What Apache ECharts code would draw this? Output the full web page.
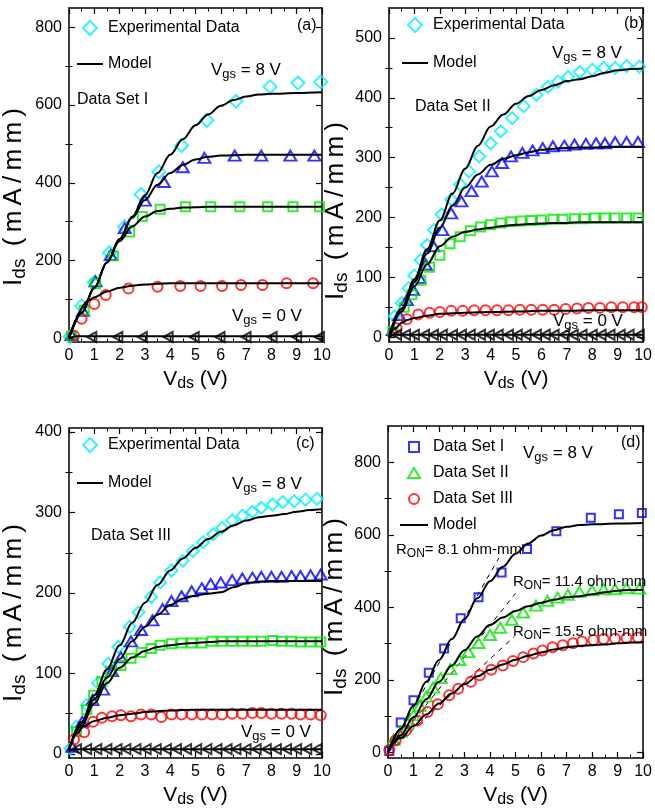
<!DOCTYPE html>
<html><head><meta charset="utf-8">
<script src="https://cdn.jsdelivr.net/npm/echarts@6/dist/echarts.min.js"></script>
<style>html,body{margin:0;padding:0;background:#fff}#c{width:655px;height:809px}</style>
</head><body><div id="c"></div>
<script>
// ---------- Panel (a): Data Set I ----------
const aVd8 = [0.05,0.5,1.0,1.6,2.2,2.85,3.55,4.45,5.45,6.6,7.95,9.05,9.95];
const aId8 = [4,83,144,220,287,370,428,496,561,610,647,657,660];
const aVd6 = [0.1,0.55,1.05,1.65,2.2,3.0,3.75,4.5,5.35,6.55,7.6,8.75,9.7];
const aId6 = [8,70,146,214,283,354,402,440,464,470,470,470,470];
const aVd4 = [0.1,0.6,1.05,1.75,2.4,2.9,3.6,4.6,5.6,6.75,7.85,8.85,9.9];
const aId4 = [5,72,140,212,273,313,332,338,338,338,338,338,338];
const aVd2 = [0.2,0.5,1.0,1.45,2.35,3.5,4.4,5.2,6.05,6.8,7.65,8.6,9.65];
const aId2 = [6,50,88,111,128,132,134,134,134,137,137,141,141];
const aVd0 = [0.9,1.93,2.9,3.92,4.95,5.97,7.0,8.03,9.0,9.9];
const aId0 = [3,3,3,3,3,3,3,3,3,3];
const aMx  = [0,0.5,1,1.5,2,2.5,3,3.5,4,4.5,5,5.5,6,6.5,7,7.5,8,9,10];
const aM8  = [0,65,130,195,255,313,368,425,472,512,548,576,598,613,622,627,629,631,633];
const aM6  = [0,65,130,195,255,310,355,395,425,446,460,467,470,471,472,472,472,472,472];
const aM4  = [0,65,130,195,250,288,313,327,333,336,337,338,338,338,338,338,338,338,338];
const aM2x = [0,0.8,1,1.5,2,2.5,3,3.5,4,5,6,7,8,9,10];
const aM2  = [0,98,105,120,130,135,138,140,141,141,141,141,141,141,141];
const aM0x = [0,0.3,10];
const aM0  = [0,5,5];

// ---------- Panel (b): Data Set II ----------
const bVd8 = [0.22,0.5,0.77,1.0,1.25,1.5,1.77,2.07,2.45,2.8,3.15,3.55,4.0,4.4,4.85,5.3,5.8,6.25,6.65,7.05,7.5,8.0,8.45,8.9,9.35,9.85];
const bId8 = [35,57,82,103,129,154,179,205,230,255,277,302,324,344,366,386,405,418,427,435,443,447,450,450,453,452];
const bVd6 = [0.15,0.4,0.7,0.95,1.2,1.45,1.75,2.1,2.45,2.85,3.25,3.65,4.05,4.45,4.8,5.25,5.65,6.05,6.45,6.9,7.3,7.75,8.15,8.5,8.9,9.35,9.8];
const bId6 = [12,37,62,79,99,121,152,179,207,227,244,260,277,291,302,308,312,316,319,320,322,323,324,324,326,326,326];
const bVd4 = [0.15,0.6,0.9,1.25,1.6,2.0,2.4,2.8,3.2,3.6,4.0,4.4,4.8,5.2,5.6,6.0,6.45,6.85,7.3,7.7,8.1,8.5,8.9,9.35,9.8];
const bId4 = [10,50,71,95,117,137,156,168,178,184,188,191,193,194,195,196,197,197,198,198,199,199,199,199,199];
const bVd2 = [0.3,0.7,1.15,1.6,2.0,2.45,2.9,3.35,3.8,4.25,4.7,5.15,5.6,6.05,6.5,6.95,7.4,7.85,8.3,8.75,9.2,9.65,9.95];
const bId2 = [15,30,38,41,42,44,44,45,45,45,45,46,46,46,46,47,48,49,49,50,50,50,50];
const bVd0 = [0.3,0.65,1.0,1.4,1.75,2.1,2.5,2.85,3.2,3.6,3.95,4.3,4.7,5.05,5.4,5.8,6.15,6.5,6.9,7.25,7.6,8.0,8.35,8.7,9.1,9.45,9.85];
const bId0 = [4,4,4,4,4,4,4,4,4,4,4,4,4,4,4,4,4,4,4,4,4,4,4,4,4,4,4];
const bMx  = [0,0.5,1,1.5,2,2.5,3,3.5,4,4.5,5,5.5,6,6.5,7,7.5,8,8.5,9,9.5,10];
const bM8  = [0,48,97,147,195,240,282,320,352,372,390,403,413,421,428,431,436,442,446,448,449];
const bM6  = [0,47,93,140,183,220,250,272,288,298,304,309,313,315,316,317,317,318,318,318,318];
const bM4  = [0,43,85,122,152,168,176,180,183,186,188,189,190,191,191,192,192,192,192,192,192];
const bM2x = [0,0.25,0.5,0.75,1,1.5,2,3,4,5,6,7,8,9,10];
const bM2  = [0,15,24,29,32,36,39,41,42,43,44,44,45,45,45];
const bM0x = [0,0.2,10];
const bM0  = [0,4,4];

// ---------- Panel (c): Data Set III ----------
const cVd8 = [0.05,0.3,0.7,1.15,1.55,1.95,2.4,2.75,3.25,3.6,4.05,4.5,4.9,5.3,5.7,6.05,6.45,6.85,7.25,7.6,8.05,8.45,8.9,9.35,9.8];
const cId8 = [7,34,61,88,112,133,158,176,195,213,228,240,252,263,273,281,290,296,301,306,310,313,314,316,317];
const cVd6 = [0.13,0.52,0.93,1.35,1.7,2.05,2.45,2.85,3.3,3.7,4.05,4.45,4.85,5.25,5.6,6.0,6.45,6.85,7.25,7.6,8.0,8.4,8.8,9.15,9.55,9.95];
const cId6 = [9,40,67,80,103,120,140,154,166,180,190,196,202,206,211,213,216,218,219,220,220,220,221,221,222,223];
const cVd4 = [0.3,0.7,0.97,1.3,1.65,2.05,2.45,2.85,3.25,3.6,4.05,4.45,4.85,5.25,5.65,6.05,6.45,6.85,7.25,7.6,8.05,8.4,8.8,9.15,9.55,9.95];
const cId4 = [28,55,73,90,103,110,119,126,131,135,137,138,138,138,140,140,140,140,140,140,141,140,140,139,139,139];
const cVd2 = [0.2,0.6,0.95,1.3,1.7,2.05,2.45,2.85,3.25,3.65,4.05,4.45,4.85,5.25,5.65,6.05,6.45,6.85,7.25,7.6,8.0,8.4,8.8,9.15,9.55,9.95];
const cId2 = [18,27,40,45,47,48,47,49,49,46,49,49,49,49,49,49,50,50,51,51,50,50,50,49,49,48];
const cVd0 = [0.3,0.7,1.1,1.5,1.9,2.25,2.65,3.05,3.45,3.85,4.25,4.65,5.05,5.45,5.85,6.25,6.6,7.0,7.4,7.8,8.2,8.6,9.0,9.4,9.8];
const cId0 = [6,6,6,6,6,6,6,6,6,6,6,6,6,6,6,6,6,6,6,6,6,6,6,6,6];
const cMx  = [0,0.5,1,1.5,2,2.5,3,3.5,4,4.5,5,5.5,6,6.5,7,7.5,8,8.5,9,9.5,10];
const cM8  = [5,40,73,105,135,163,188,210,228,243,256,267,276,284,290,294,296,298,301,303,304];
const cM6  = [5,38,68,95,118,140,158,173,185,193,197,199,201,207,212,214,215,215,215,215,215];
const cM4  = [5,35,63,88,107,120,128,133,135,137,138,139,140,140,140,140,140,140,140,140,140];
const cM2x = [0,0.3,0.6,1,1.5,2,2.5,3,4,5,6,7,8,9,10];
const cM2  = [5,25,35,41,45,48,50,52,54,55,55,55,55,55,55];
const cM0x = [0,0.2,10];
const cM0  = [4,6,6];

// ---------- Panel (d): R_ON ----------
const ronValues = [8.1, 11.4, 15.5];      // ohm-mm
const ronEndVds = [4.35, 5.0, 4.95];       // V, end of dashed tangent

// ---------- ticks ----------
const xTickVals = [0,1,2,3,4,5,6,7,8,9,10];
const aYMajor = [0,200,400,600,800], aYMinor = [100,300,500,700];
const bYMajor = [0,100,200,300,400,500], bYMinor = [50,150,250,350,450];
const cYMajor = [0,100,200,300,400], cYMinor = [50,150,250,350];
const dYMajor = [0,200,400,600,800], dYMinor = [100,300,500,700];

const FONT = "'Liberation Sans', Arial, sans-serif";
const CYAN = '#00f0ff', BLUE = '#0000ff', GREEN = '#00e800', RED = '#ff0000', BLACK = '#000';

const grids = [
  {left:62, top:8, width:260, height:334},
  {left:389, top:8, width:261, height:334},
  {left:63, top:428, width:259, height:332},
  {left:388, top:426, width:260, height:335}
];
const yRanges = [[-10,850],[-8,550],[-5,405],[-15,900]];
const yMajors = [aYMajor,bYMajor,cYMajor,dYMajor];
const yMinors = [aYMinor,bYMinor,cYMinor,dYMinor];
const yNameShift = [44, 72, 40, 30];
const yNameGap = [40, 38, 40, 38];

const xRich = {
  m:{fontSize:21, fontFamily:FONT, color:'#000', lineHeight:26},
  s:{fontSize:16, fontFamily:FONT, color:'#000', lineHeight:14, verticalAlign:'bottom'}
};
const yRich = {
  m:{fontSize:26, fontFamily:FONT, color:'#000', lineHeight:30},
  s:{fontSize:19, fontFamily:FONT, color:'#000', lineHeight:16, verticalAlign:'bottom'}
};
const TS = '\u2009';
const yName = '{m|I}{s|ds}{m|' + TS + ' ' + '(mA/mm)'.split('').join(TS) + '}';

const xAxis = [], yAxis = [];
grids.forEach((g, gi) => {
  const common = {gridIndex:gi, type:'value', min:0, max:10, interval:1, splitLine:{show:false},
    axisLine:{show:true, onZero:false, lineStyle:{color:'#000', width:1.5}},
    axisTick:{show:true, inside:true, length:6, lineStyle:{color:'#000', width:1.2}},
    minorTick:{show:true, splitNumber:2, length:3.5, lineStyle:{color:'#000', width:1}}};
  xAxis.push(Object.assign({}, common, {position:'bottom',
    axisLabel:{show:true, fontSize:16, fontFamily:FONT, color:'#000', margin:6},
    name:'{m|V}{s|ds}{m| (V)}', nameLocation:'middle', nameGap:24,
    nameTextStyle:{rich:xRich}}));
  xAxis.push(Object.assign({}, common, {position:'top', axisLabel:{show:false}}));
  const [mn, mx] = yRanges[gi];
  const yc = {gridIndex:gi, type:'value', min:mn, max:mx, splitLine:{show:false}};
  yAxis.push(Object.assign({}, yc, {position:'left',
    axisLine:{show:true, onZero:false, lineStyle:{color:'#000', width:1.5}},
    axisTick:{show:true, inside:true, length:6, customValues:yMajors[gi], lineStyle:{color:'#000', width:1.2}},
    axisLabel:{show:true, customValues:yMajors[gi], fontSize:16, fontFamily:FONT, color:'#000', margin:7},
    name:yName, nameLocation:'middle', nameGap:yNameGap[gi],
    nameTextStyle:{rich:yRich, padding:[0, yNameShift[gi], 0, 0]}}));
  yAxis.push(Object.assign({}, yc, {position:'right',
    axisLine:{show:true, onZero:false, lineStyle:{color:'#000', width:1.5}},
    axisTick:{show:true, inside:true, length:6, customValues:yMajors[gi], lineStyle:{color:'#000', width:1.2}},
    axisLabel:{show:false, customValues:yMajors[gi]}}));
  ['left','right'].forEach(pos => yAxis.push(Object.assign({}, yc, {position:pos,
    axisLine:{show:false},
    axisTick:{show:true, inside:true, length:3.5, customValues:yMinors[gi], lineStyle:{color:'#000', width:1}},
    axisLabel:{show:false, customValues:yMinors[gi]}})));
});

const zip = (xs, ys) => xs.map((x, i) => [x, ys[i]]);
function sc(name, gi, xs, ys, symbol, color, size, rot) {
  return {type:'scatter', name, xAxisIndex:2*gi, yAxisIndex:4*gi, data:zip(xs, ys),
    symbol, symbolSize:size, symbolRotate:rot || 0, silent:true, z:3,
    itemStyle:{color:'rgba(255,255,255,0)', borderColor:color, borderWidth:2}};
}
function ln(name, gi, xs, ys, dashed) {
  return {type:'line', name, xAxisIndex:2*gi, yAxisIndex:4*gi, data:zip(xs, ys),
    symbol:'none', smooth:dashed ? false : 0.35, smoothMonotone:'x', silent:true, z:dashed ? 2 : 4,
    itemStyle:{color:'#000'},
    lineStyle:{color:'#000', width:dashed ? 1 : 2, type:dashed ? [5,5] : 'solid'}};
}

const series = [
  // (a)
  sc('Experimental Data', 0, aVd8, aId8, 'diamond', CYAN, 13),
  sc('a6', 0, aVd6, aId6, 'triangle', BLUE, [12,10]),
  sc('a4', 0, aVd4, aId4, 'rect', GREEN, 9),
  sc('a2', 0, aVd2, aId2, 'circle', RED, 10),
  sc('a0', 0, aVd0, aId0, 'triangle', BLACK, [10,9], 90),
  ln('Model', 0, aMx, aM8), ln('Model', 0, aMx, aM6), ln('Model', 0, aMx, aM4),
  ln('Model', 0, aM2x, aM2), ln('Model', 0, aM0x, aM0),
  // (b)
  sc('Experimental Data', 1, bVd8, bId8, 'diamond', CYAN, 12),
  sc('b6', 1, bVd6, bId6, 'triangle', BLUE, [12,10]),
  sc('b4', 1, bVd4, bId4, 'rect', GREEN, 9),
  sc('b2', 1, bVd2, bId2, 'circle', RED, 10),
  sc('b0', 1, bVd0, bId0, 'triangle', BLACK, [10,9], 90),
  ln('Model', 1, bMx, bM8), ln('Model', 1, bMx, bM6), ln('Model', 1, bMx, bM4),
  ln('Model', 1, bM2x, bM2), ln('Model', 1, bM0x, bM0),
  // (c)
  sc('Experimental Data', 2, cVd8, cId8, 'diamond', CYAN, 12),
  sc('c6', 2, cVd6, cId6, 'triangle', BLUE, [12,10]),
  sc('c4', 2, cVd4, cId4, 'rect', GREEN, 9),
  sc('c2', 2, cVd2, cId2, 'circle', RED, 10),
  sc('c0', 2, cVd0, cId0, 'triangle', BLACK, [10,9], 90),
  ln('Model', 2, cMx, cM8), ln('Model', 2, cMx, cM6), ln('Model', 2, cMx, cM4),
  ln('Model', 2, cM2x, cM2), ln('Model', 2, cM0x, cM0),
  // (d)
  sc('Data Set I', 3, aVd8, aId8, 'rect', BLUE, 8),
  sc('Data Set II', 3, bVd8, bId8, 'triangle', GREEN, [12,10]),
  sc('Data Set III', 3, cVd8, cId8, 'circle', RED, 10),
  ln('Model', 3, aMx, aM8), ln('Model', 3, bMx, bM8), ln('Model', 3, cMx, cM8)
];
ronValues.forEach((r, i) => {
  series.push(ln('ron' + i, 3, [0, ronEndVds[i]], [0, 1000 * ronEndVds[i] / r], true));
});

// legend icons (kept at their own aspect inside the icon slot)
const ICON_LINE = 'path://M0,0L26,0L26,2L0,2Z';
const ICON_DIAMOND = 'path://M7,0L14,7L7,14L0,7Z';
const ICON_SQUARE = 'path://M0,0L8,0L8,8L0,8Z';
const ICON_TRI = 'path://M6,0L12,10L0,10Z';
const ICON_CIRCLE = 'path://M5,0A5,5,0,1,1,5,10A5,5,0,1,1,5,0Z';

const legendText = {fontSize:16, fontFamily:FONT, color:'#000'};
const legBase = {orient:'vertical', itemWidth:26, padding:0, textStyle:legendText, selectedMode:false, symbolKeepAspect:true};
const expItems = [{name:'Experimental Data', icon:ICON_DIAMOND}, {name:'Model', icon:ICON_LINE, itemStyle:{color:'#000', borderWidth:0}}];
const legend = [
  Object.assign({}, legBase, {data:expItems, left:77, top:20, itemGap:20, itemHeight:14}),
  Object.assign({}, legBase, {data:expItems, left:402, top:17, itemGap:22, itemHeight:14}),
  Object.assign({}, legBase, {data:expItems, left:77, top:437, itemGap:22, itemHeight:14}),
  Object.assign({}, legBase, {data:[{name:'Data Set I', icon:ICON_SQUARE}, {name:'Data Set II', icon:ICON_TRI},
    {name:'Data Set III', icon:ICON_CIRCLE}, {name:'Model', icon:'path://M0,0L28,0L28,2L0,2Z', itemStyle:{color:'#000', borderWidth:0}}],
    left:400, top:439, itemGap:10, itemHeight:10, itemWidth:28})
];

const annRich = {
  m:{fontSize:17, fontFamily:FONT, fill:'#000', lineHeight:22},
  s:{fontSize:13, fontFamily:FONT, fill:'#000', lineHeight:12, verticalAlign:'bottom'}
};
const ronRich = {
  m:{fontSize:15, fontFamily:FONT, fill:'#000', lineHeight:20},
  s:{fontSize:12, fontFamily:FONT, fill:'#000', lineHeight:11, verticalAlign:'bottom'}
};
function txt(x, y, text, rich, size) {
  const st = {text, x:0, y:0, align:'left', verticalAlign:'middle', fill:'#000', font:(size || 16) + 'px ' + FONT};
  if (rich) st.rich = rich;
  return {type:'text', x, y, z:10, silent:true, style:st};
}
const vgs8 = '{m|V}{s|gs}{m| = 8 V}', vgs0 = '{m|V}{s|gs}{m| = 0 V}';
const ronLabel = r => '{m|R}{s|ON}{m|= ' + r.toFixed(1) + ' ohm-mm}';
const graphic = [
  txt(211, 70, vgs8, annRich), txt(232, 316, vgs0, annRich), txt(77, 100, 'Data Set I'), txt(297, 26, '(a)'),
  txt(552, 53, vgs8, annRich), txt(553, 321, vgs0, annRich), txt(415, 107, 'Data Set II'), txt(624, 24, '(b)'),
  txt(232, 484, vgs8, annRich), txt(241, 732, vgs0, annRich), txt(91, 536, 'Data Set III'), txt(296, 444, '(c)'),
  txt(523, 453, vgs8, annRich), txt(621, 443, '(d)'),
  txt(396, 550, ronLabel(ronValues[0]), ronRich), txt(513, 582, ronLabel(ronValues[1]), ronRich), txt(513, 632, ronLabel(ronValues[2]), ronRich)
];

const chart = echarts.init(document.getElementById('c'), null, {renderer:'canvas'});
chart.setOption({animation:false, backgroundColor:'#fff', textStyle:{fontFamily:FONT},
  grid:grids, xAxis, yAxis, series, legend, graphic});
</script></body></html>
